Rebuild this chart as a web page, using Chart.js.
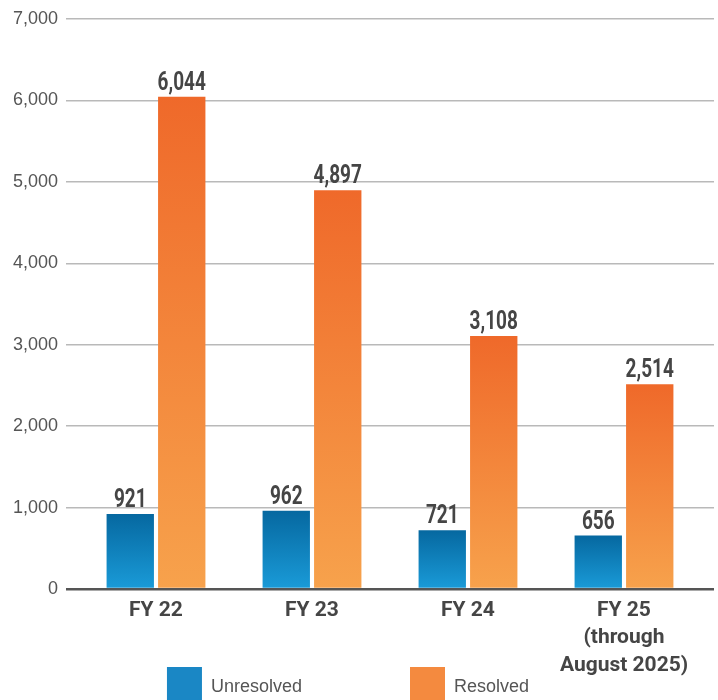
<!DOCTYPE html>
<html>
<head>
<meta charset="utf-8">
<script src="https://cdn.jsdelivr.net/npm/chart.js@4.4.1/dist/chart.umd.min.js"></script>
<style>
  html, body { margin: 0; padding: 0; background: #fff; overflow: hidden; }
  #wrap { position: relative; width: 718px; height: 717px; }
</style>
</head>
<body>
<div id="wrap"><canvas id="c"></canvas></div>
<script>
const categories = [['FY 22'], ['FY 23'], ['FY 24'], ['FY 25', '(through', 'August 2025)']];
const seriesNames = ['Unresolved', 'Resolved'];
const unresolved = [921, 962, 721, 656];
const resolved = [6044, 4897, 3108, 2514];
const yMin = 0, yMax = 7000, yStep = 1000;

const boldFamily = "Roboto, 'Liberation Sans', sans-serif";
const labelStretch = 0.76;
const plain = "'Liberation Sans', Arial, sans-serif";

function barGradient(top, bottom) {
  return function (ctx) {
    const chart = ctx.chart;
    if (!chart.chartArea || !ctx.parsed) return top;
    const ys = chart.scales.y;
    const y0 = ys.getPixelForValue(ctx.parsed.y);
    const y1 = ys.getPixelForValue(0);
    const g = chart.ctx.createLinearGradient(0, y0, 0, y1);
    g.addColorStop(0, top);
    g.addColorStop(1, bottom);
    return g;
  };
}
const legendColors = ['#1a87c5', '#f48a3f'];
const gridColor = (c) => (c.tick && c.tick.value === 0 ? '#555555' : '#b9b9b9');
const gridWidth = (c) => (c.tick && c.tick.value === 0 ? 2.5 : 1.5);

const valueLabels = {
  id: 'valueLabels',
  afterLayout(chart) {
    // let the multi-line category labels run into the legend band without being clipped
    const xs = chart.scales.x;
    xs.bottom = chart.height;
  },
  afterDatasetsDraw(chart) {
    const ctx = chart.ctx;
    ctx.save();
    ctx.font = "bold 25px " + boldFamily;
    ctx.fillStyle = '#454545';
    ctx.textAlign = 'center';
    ctx.textBaseline = 'alphabetic';
    chart.data.datasets.forEach((ds, i) => {
      chart.getDatasetMeta(i).data.forEach((el, j) => {
        ctx.save();
        ctx.translate(el.x, el.y - 7);
        ctx.scale(labelStretch, 1);
        ctx.fillText(ds.data[j].toLocaleString('en-US'), 0, 0);
        ctx.restore();
      });
    });
    ctx.restore();
  }
};

new Chart(document.getElementById('c'), {
  type: 'bar',
  data: {
    labels: categories,
    datasets: [
      { label: seriesNames[0], data: unresolved, backgroundColor: barGradient('#0668a0', '#1a9bd8'), borderWidth: 0 },
      { label: seriesNames[1], data: resolved, backgroundColor: barGradient('#ef692a', '#f7a24c'), borderWidth: 0 }
    ]
  },
  options: {
    responsive: true,
    maintainAspectRatio: false,
    animation: false,
    categoryPercentage: 0.66,
    barPercentage: 0.92,
    layout: { padding: { top: 19, right: 4, left: 0, bottom: 0 } },
    plugins: {
      tooltip: { enabled: false },
      legend: {
        position: 'bottom',
        labels: {
          boxWidth: 35,
          boxHeight: 40,
          padding: 0,
          color: '#555555',
          font: { family: plain, size: 18, lineHeight: 2.4 },
          generateLabels(chart) {
            const items = Chart.defaults.plugins.legend.labels.generateLabels(chart);
            items.forEach((it, i) => {
              it.fillStyle = legendColors[i];
              it.strokeStyle = legendColors[i];
              it.lineWidth = 0;
            });
            items[0].text = items[0].text + '\u2003\u2003\u2003\u2003\u2003\u2003';
            items[1].text = items[1].text + '\u2003';
            return items;
          }
        }
      }
    },
    scales: {
      x: {
        grid: { display: false, drawTicks: false },
        border: { display: false },
        ticks: {
          padding: 8,
          color: '#454545',
          font: { family: boldFamily, size: 21, weight: 'bold', lineHeight: 1.3 }
        },
        afterFit(s) { s.height = 78; }
      },
      y: {
        min: yMin, max: yMax,
        ticks: {
          stepSize: yStep,
          padding: 8,
          color: '#555555',
          font: { family: plain, size: 18 },
          callback: (v) => v.toLocaleString('en-US')
        },
        grid: { color: gridColor, lineWidth: gridWidth, drawTicks: true, tickLength: 12 },
        border: { display: false },
        afterFit(s) { s.width = 78; }
      },
      y2: {
        position: 'right',
        min: yMin, max: yMax,
        ticks: { display: false, stepSize: yStep },
        grid: { color: gridColor, lineWidth: gridWidth, drawOnChartArea: false, drawTicks: true, tickLength: 12 },
        border: { display: false }
      }
    }
  },
  plugins: [valueLabels]
});
</script>
</body>
</html>
